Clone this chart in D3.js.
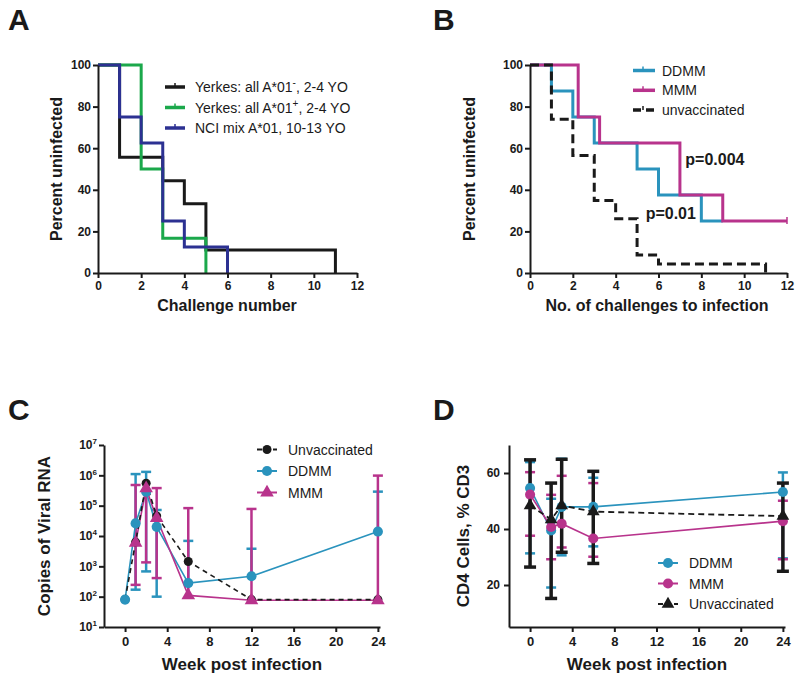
<!DOCTYPE html>
<html>
<head>
<meta charset="utf-8">
<script src="https://cdn.jsdelivr.net/npm/d3@7"></script>
<style>
  body { margin: 0; background: #fff; }
</style>
</head>
<body>
<svg id="chart" width="800" height="681"></svg>
<script>
const FONT = '"Liberation Sans", Arial, Helvetica, sans-serif';
const INK = '#1a1a1a';
const GREEN = '#1ba84b';
const BLUE = '#2c3192';
const TEAL = '#2a93bd';
const MAGENTA = '#b8338c';

// ---- Panel A: percent uninfected by challenge number (step curves) ----
const aYerkesNeg = [[0, 100], [1, 55.6], [3, 44.4], [4, 33.3], [5, 11.1], [11, 0]];
const aYerkesPos = [[0, 100], [2, 50], [3, 16.7], [5, 0]];
const aNciMix    = [[0, 100], [1, 75], [2, 62.5], [3, 25], [4, 12.5], [6, 0]];
const aTicksX = [0, 2, 4, 6, 8, 10, 12];
const aTicksY = [0, 20, 40, 60, 80, 100];

// ---- Panel B: percent uninfected by no. of challenges ----
const bDDMM   = [[0, 100], [1, 87.5], [2, 75], [3, 62.5], [5, 50], [6, 37.5], [8, 25], [9, 25]];
const bMMM    = [[0, 100], [2.25, 75], [3.25, 62.5], [7, 37.5], [9, 25], [12, 25]];
const bUnvacc = [[0, 100], [1, 73.9], [2, 56.5], [3, 34.8], [4, 26.1], [5, 8.7], [6, 4.3], [11, 0]];
const bPLabels = ['p=0.004', 'p=0.01'];

// ---- Panel C: viral RNA copies by week ----
const cTicksX = [0, 4, 8, 12, 16, 20, 24];
const cTicksY = [1e1, 1e2, 1e3, 1e4, 1e5, 1e6, 1e7];
const cWeeks   = [0, 1, 2, 3, 6, 12, 24];
const cUnvacc  = [80, 6300, 550000, 46000, 1450, 80, 80];
const cDDMM    = [80, 26000, 290000, 20000, 280, 470, 14000];
const cDDMMHi  = [null, 1100000, 1300000, 72000, 6900, 3800, 290000];
const cDDMMLo  = [null, 170, 680, 100, null, null, null];
const cMMMWeeks = [1, 2, 3, 6, 12, 24];
const cMMM     = [5900, 370000, 39000, 110, 76, 76];
const cMMMHi   = [480000, null, 380000, 83000, 78000, 980000];
const cMMMLo   = [245, 1350, 410, null, null, null];

// ---- Panel D: CD4 cells (% CD3) by week ----
const dTicksY = [20, 40, 60];
const dWeeks   = [0, 2, 3, 6, 24];
const dDDMM    = [54.6, 39.5, 47.9, 47.9, 53.2];
const dDDMMHi  = [63.9, 50.8, 65.1, 58.3, 60.2];
const dDDMMLo  = [31.3, 19.1, 30.6, 33.8, 29.5];
const dMMM     = [52.3, 40.7, 41.9, 36.6, 42.8];
const dMMMHi   = [60.3, 52.2, 59.0, 56.4, 50.1];
const dMMMLo   = [37.6, 29.2, 33.4, 30.1, 29.2];
const dUnvacc  = [48.4, 43.4, 48.4, 46.2, 44.6];
const dUnvaccHi = [64.7, 56.4, 64.9, 60.6, 56.4];
const dUnvaccLo = [26.4, 15.2, 31.7, 27.7, 24.9];

const svg = d3.select('#chart').style('font-family', FONT);

function styleAxis(g, size) {
  g.attr('font-family', FONT).attr('font-size', size).attr('font-weight', 'bold');
  g.select('.domain').attr('stroke', INK).attr('stroke-width', 2);
  g.selectAll('.tick line').attr('stroke', INK).attr('stroke-width', 2);
  g.selectAll('.tick text').attr('fill', INK);
}

function panelLetter(x, y, t) {
  svg.append('text').attr('x', x).attr('y', y)
    .attr('font-size', 30).attr('font-weight', 'bold').attr('fill', INK)
    .text(t);
}

function yTitle(x, y, t, size) {
  svg.append('text')
    .attr('transform', `translate(${x},${y}) rotate(-90)`)
    .attr('text-anchor', 'middle').attr('font-size', size).attr('font-weight', 'bold')
    .attr('fill', INK).text(t);
}

function xTitle(x, y, t, size) {
  svg.append('text').attr('x', x).attr('y', y)
    .attr('text-anchor', 'middle').attr('font-size', size).attr('font-weight', 'bold')
    .attr('fill', INK).text(t);
}

const stepLine = (x, y) => d3.line().x(d => x(d[0])).y(d => y(d[1])).curve(d3.curveStepAfter);

// ============ Panel A ============
const xA = d3.scaleLinear([0, 12], [98, 357]);
const yA = d3.scaleLinear([0, 100], [273, 65]);

[[aYerkesNeg, INK], [aYerkesPos, GREEN], [aNciMix, BLUE]].forEach(([pts, col]) => {
  svg.append('path').attr('d', stepLine(xA, yA)(pts))
    .attr('fill', 'none').attr('stroke', col).attr('stroke-width', 3);
});

svg.append('g').attr('transform', 'translate(0,273)')
  .call(d3.axisBottom(xA).tickValues(aTicksX).tickSize(5).tickSizeOuter(0).tickPadding(3))
  .call(g => styleAxis(g, 12));
svg.append('g').attr('transform', 'translate(98,0)')
  .call(d3.axisLeft(yA).tickValues(aTicksY).tickSize(5).tickSizeOuter(0).tickPadding(2))
  .call(g => styleAxis(g, 12));

panelLetter(8, 30, 'A');
yTitle(62, 169, 'Percent uninfected', 16);
xTitle(227, 311, 'Challenge number', 16);

// legend A
const legA = [
  { col: INK, parts: ['Yerkes: all A*01', '-', ', 2-4 YO'] },
  { col: GREEN, parts: ['Yerkes: all A*01', '+', ', 2-4 YO'] },
  { col: BLUE, parts: ['NCI mix A*01, 10-13 YO'] }
];
legA.forEach((d, i) => {
  const ly = 87 + i * 20.5;
  svg.append('line').attr('x1', 165).attr('x2', 185).attr('y1', ly).attr('y2', ly)
    .attr('stroke', d.col).attr('stroke-width', 3.5);
  svg.append('line').attr('x1', 175).attr('x2', 175).attr('y1', ly - 4).attr('y2', ly)
    .attr('stroke', d.col).attr('stroke-width', 1.5);
  const t = svg.append('text').attr('x', 195).attr('y', ly + 5)
    .attr('font-size', 14).attr('fill', INK);
  t.append('tspan').text(d.parts[0]);
  if (d.parts.length > 1) {
    t.append('tspan').attr('dy', -6).attr('font-size', 10).text(d.parts[1]);
    t.append('tspan').attr('dy', 6).text(d.parts[2]);
  }
});

// ============ Panel B ============
const xB = d3.scaleLinear([0, 12], [530, 787]);
const yB = d3.scaleLinear([0, 100], [273, 65]);

svg.append('path').attr('d', stepLine(xB, yB)(bDDMM))
  .attr('fill', 'none').attr('stroke', TEAL).attr('stroke-width', 3);
svg.append('path').attr('d', stepLine(xB, yB)(bMMM))
  .attr('fill', 'none').attr('stroke', MAGENTA).attr('stroke-width', 3);
svg.append('path').attr('d', stepLine(xB, yB)(bUnvacc))
  .attr('fill', 'none').attr('stroke', INK).attr('stroke-width', 3)
  .attr('stroke-dasharray', '9,5');
// censored end mark
svg.append('line')
  .attr('x1', xB(12)).attr('x2', xB(12))
  .attr('y1', yB(25) - 4).attr('y2', yB(25) + 3)
  .attr('stroke', MAGENTA).attr('stroke-width', 1.5);

svg.append('g').attr('transform', 'translate(0,273)')
  .call(d3.axisBottom(xB).tickValues(aTicksX).tickSize(5).tickSizeOuter(0).tickPadding(3))
  .call(g => styleAxis(g, 12));
svg.append('g').attr('transform', 'translate(530,0)')
  .call(d3.axisLeft(yB).tickValues(aTicksY).tickSize(5).tickSizeOuter(0).tickPadding(2))
  .call(g => styleAxis(g, 12));

svg.append('text').attr('x', xB(7.25)).attr('y', yB(55) + 6)
  .attr('font-size', 16).attr('font-weight', 'bold').attr('fill', INK).text(bPLabels[0]);
svg.append('text').attr('x', xB(5.4)).attr('y', yB(29) + 6)
  .attr('font-size', 16).attr('font-weight', 'bold').attr('fill', INK).text(bPLabels[1]);

panelLetter(433, 30, 'B');
yTitle(475, 169, 'Percent uninfected', 16);
xTitle(657, 311, 'No. of challenges to infection', 16);

const legB = [
  { col: TEAL, dash: null, label: 'DDMM' },
  { col: MAGENTA, dash: null, label: 'MMM' },
  { col: INK, dash: '8,5', label: 'unvaccinated' }
];
legB.forEach((d, i) => {
  const ly = 70.5 + i * 19.8;
  svg.append('line').attr('x1', 633).attr('x2', 655).attr('y1', ly).attr('y2', ly)
    .attr('stroke', d.col).attr('stroke-width', 3.5).attr('stroke-dasharray', d.dash);
  svg.append('line').attr('x1', 643).attr('x2', 643).attr('y1', ly - 4).attr('y2', ly)
    .attr('stroke', d.col).attr('stroke-width', 1.5);
  svg.append('text').attr('x', 662).attr('y', ly + 5)
    .attr('font-size', 14).attr('fill', INK).text(d.label);
});

// ============ shared helpers for C / D ============
function errorBars(g, x, y, xs, ys, hi, lo, col, w, capW) {
  xs.forEach((wk, i) => {
    const top = hi[i], bot = lo[i];
    if (top == null && bot == null) return;
    const y1 = y(top == null ? ys[i] : top);
    const y2 = y(bot == null ? ys[i] : bot);
    g.append('line').attr('x1', x(wk)).attr('x2', x(wk)).attr('y1', y1).attr('y2', y2)
      .attr('stroke', col).attr('stroke-width', w);
    if (top != null) g.append('line').attr('x1', x(wk) - capW / 2).attr('x2', x(wk) + capW / 2)
      .attr('y1', y1).attr('y2', y1).attr('stroke', col).attr('stroke-width', w);
    if (bot != null) g.append('line').attr('x1', x(wk) - capW / 2).attr('x2', x(wk) + capW / 2)
      .attr('y1', y2).attr('y2', y2).attr('stroke', col).attr('stroke-width', w);
  });
}

function seriesLine(g, x, y, xs, ys, col, dash, w) {
  g.append('path')
    .attr('d', d3.line().x((d, i) => x(xs[i])).y(d => y(d))(ys))
    .attr('fill', 'none').attr('stroke', col).attr('stroke-width', w)
    .attr('stroke-dasharray', dash);
}

function markers(g, x, y, xs, ys, col, shape, size) {
  g.selectAll(null).data(ys).join('path')
    .attr('transform', (d, i) => `translate(${x(xs[i])},${y(d)})`)
    .attr('d', d3.symbol(shape, size))
    .attr('fill', col);
}

function legendRow(lx, ly, col, dash, shape, size, label) {
  svg.append('line').attr('x1', lx).attr('x2', lx + 20).attr('y1', ly).attr('y2', ly)
    .attr('stroke', col).attr('stroke-width', 2).attr('stroke-dasharray', dash);
  svg.append('path').attr('transform', `translate(${lx + 10},${ly})`)
    .attr('d', d3.symbol(shape, size)).attr('fill', col);
  svg.append('text').attr('x', lx + 31).attr('y', ly + 5)
    .attr('font-size', 14).attr('fill', INK).text(label);
}

// ============ Panel C ============
const xC = d3.scaleLinear([-2, 24.2], [104, 380]);
const yC = d3.scaleLog([10, 1e7], [627, 445]);
const gC = svg.append('g');

errorBars(gC, xC, yC, cWeeks, cDDMM, cDDMMHi, cDDMMLo, TEAL, 2.5, 10);
errorBars(gC, xC, yC, cMMMWeeks, cMMM, cMMMHi, cMMMLo, MAGENTA, 2.5, 10);
seriesLine(gC, xC, yC, cWeeks, cDDMM, TEAL, null, 1.6);
seriesLine(gC, xC, yC, cMMMWeeks, cMMM, MAGENTA, null, 1.6);
seriesLine(gC, xC, yC, cWeeks, cUnvacc, INK, '5,4', 1.6);
markers(gC, xC, yC, cWeeks, cUnvacc, INK, d3.symbolCircle, 64);
markers(gC, xC, yC, cWeeks, cDDMM, TEAL, d3.symbolCircle, 80);
markers(gC, xC, yC, cMMMWeeks, cMMM, MAGENTA, d3.symbolTriangle, 80);

svg.append('g').attr('transform', 'translate(0,627)')
  .call(d3.axisBottom(xC).tickValues(cTicksX).tickSize(5).tickSizeOuter(0).tickPadding(5))
  .call(g => styleAxis(g, 13));
svg.append('g').attr('transform', 'translate(104,0)')
  .call(d3.axisLeft(yC).tickValues(cTicksY).tickSize(5).tickSizeOuter(0).tickPadding(2))
  .call(g => styleAxis(g, 12))
  .call(g => g.selectAll('.tick text').each(function (d) {
    const t = d3.select(this).text('');
    t.append('tspan').text('10');
    t.append('tspan').attr('dy', -5).attr('font-size', 8).text(Math.round(Math.log10(d)));
  }));

panelLetter(8, 420, 'C');
yTitle(50, 536, 'Copies of Viral RNA', 17);
xTitle(242, 670, 'Week post infection', 17);

legendRow(257, 449.5, INK, '5,3', d3.symbolCircle, 64, 'Unvaccinated');
legendRow(257, 471, TEAL, null, d3.symbolCircle, 80, 'DDMM');
legendRow(257, 492.5, MAGENTA, null, d3.symbolTriangle, 80, 'MMM');

// ============ Panel D ============
const xD = d3.scaleLinear([-2, 24.2], [509, 785]);
const yD = d3.scaleLinear([5, 70], [627, 445]);
const gD = svg.append('g');

errorBars(gD, xD, yD, dWeeks, dDDMM, dDDMMHi, dDDMMLo, TEAL, 2.5, 10);
errorBars(gD, xD, yD, dWeeks, dMMM, dMMMHi, dMMMLo, MAGENTA, 2.5, 10);
errorBars(gD, xD, yD, dWeeks, dUnvacc, dUnvaccHi, dUnvaccLo, INK, 3.5, 12);
seriesLine(gD, xD, yD, dWeeks, dDDMM, TEAL, null, 1.6);
seriesLine(gD, xD, yD, dWeeks, dMMM, MAGENTA, null, 1.6);
seriesLine(gD, xD, yD, dWeeks, dUnvacc, INK, '6,4', 1.8);
markers(gD, xD, yD, dWeeks, dDDMM, TEAL, d3.symbolCircle, 80);
markers(gD, xD, yD, dWeeks, dMMM, MAGENTA, d3.symbolCircle, 80);
markers(gD, xD, yD, dWeeks, dUnvacc, INK, d3.symbolTriangle, 70);

svg.append('g').attr('transform', 'translate(0,627)')
  .call(d3.axisBottom(xD).tickValues(cTicksX).tickSize(5).tickSizeOuter(0).tickPadding(5))
  .call(g => styleAxis(g, 13));
svg.append('g').attr('transform', 'translate(509,0)')
  .call(d3.axisLeft(yD).tickValues(dTicksY).tickSize(5).tickSizeOuter(0).tickPadding(4))
  .call(g => styleAxis(g, 12));

panelLetter(433, 420, 'D');
yTitle(469, 536, 'CD4 Cells, % CD3', 17);
xTitle(647, 670, 'Week post infection', 17);

legendRow(658, 563, TEAL, null, d3.symbolCircle, 80, 'DDMM');
legendRow(658, 583.5, MAGENTA, null, d3.symbolCircle, 80, 'MMM');
legendRow(658, 604, INK, '5,3', d3.symbolTriangle, 70, 'Unvaccinated');
</script>
</body>
</html>
